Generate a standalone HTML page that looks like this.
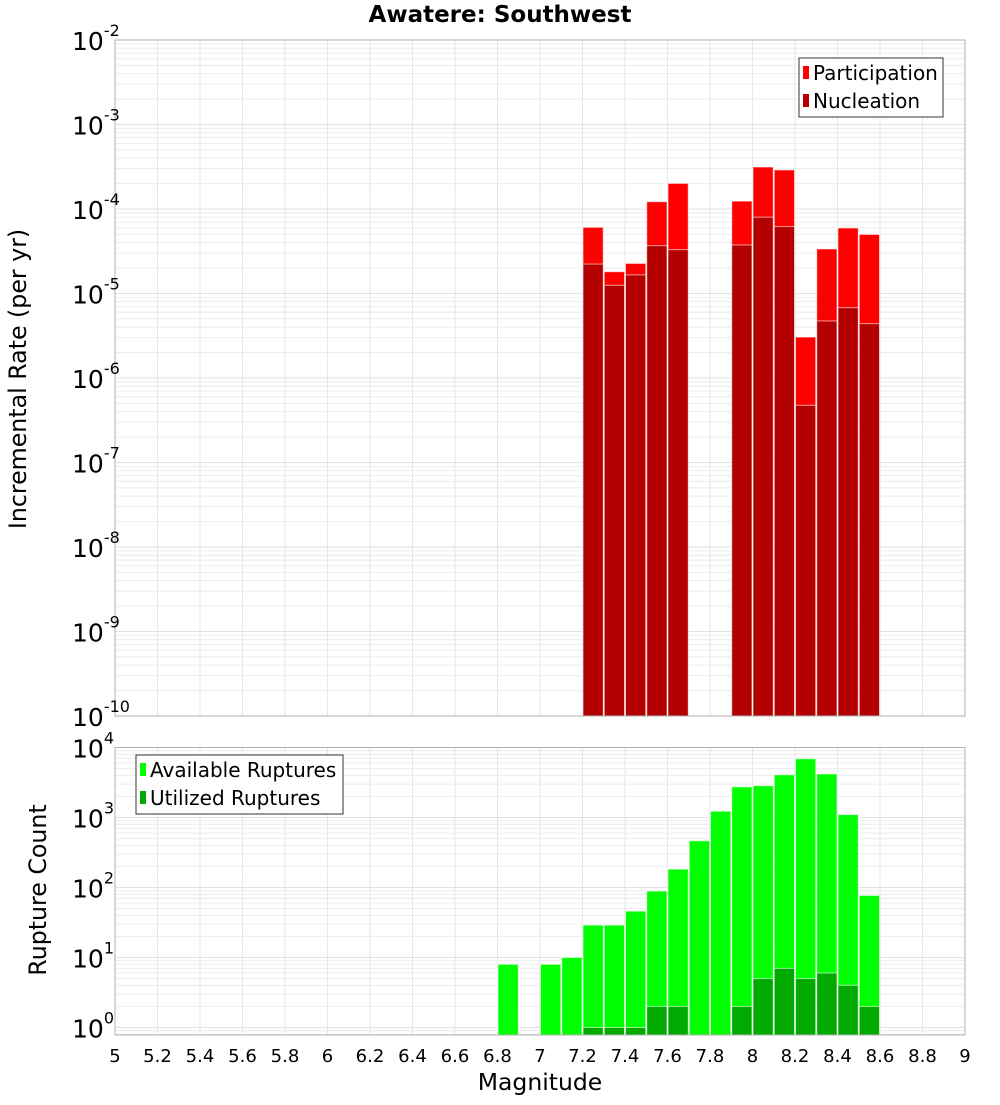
<!DOCTYPE html>
<html><head><meta charset="utf-8"><style>
body{margin:0;background:#fff}
svg text{font-family:"DejaVu Sans","Liberation Sans",sans-serif}
</style></head><body>
<svg id="c" width="1000" height="1100" xmlns="http://www.w3.org/2000/svg"></svg>
<script>
const binStarts=[6.8,6.9,7.0,7.1,7.2,7.3,7.4,7.5,7.6,7.7,7.8,7.9,8.0,8.1,8.2,8.3,8.4,8.5];
const participation=[0,0,0,0,6.07e-5,1.81e-5,2.27e-5,1.22e-4,2.01e-4,0,0,1.24e-4,3.14e-4,2.9e-4,3.05e-6,3.37e-5,5.96e-5,5.0e-5];
const nucleation=[0,0,0,0,2.23e-5,1.25e-5,1.66e-5,3.68e-5,3.3e-5,0,0,3.75e-5,8.0e-5,6.2e-5,4.75e-7,4.73e-6,6.8e-6,4.4e-6];
const available=[8,0,8,10,29,29,46,89,183,465,1230,2740,2850,4070,6900,4190,1100,77];
const utilized=[0,0,0,0,1,1,1,2,2,0,0,2,5,7,5,6,4,2];
const xTicks=["5","5.2","5.4","5.6","5.8","6","6.2","6.4","6.6","6.8","7","7.2","7.4","7.6","7.8","8","8.2","8.4","8.6","8.8","9"];
const topExps=[-2,-3,-4,-5,-6,-7,-8,-9,-10];
const botExps=[4,3,2,1,0];

const NS="http://www.w3.org/2000/svg";
const svg=document.getElementById('c');
function el(t,a,p){const e=document.createElementNS(NS,t);for(const k in a)e.setAttribute(k,a[k]);(p||svg).appendChild(e);return e;}
const X0=115,X1=965;
const x=v=>X0+(v-5)/4*(X1-X0);
const T0=40,T1=716;
const yTop=v=>T0+(-2-Math.log10(v))*(T1-T0)/8;
const B0=747.5,B1=1035,DEC=70;
const yBot=v=>B0+(4-Math.log10(v))*DEC;

function grid(top,bot,loExp,hiExp,yf,name){
  const g=el('g',{});
  
  
  for(let e=loExp;e<=hiExp;e++){for(let m=1;m<10;m++){const v=m*Math.pow(10,e);const y=yf(v);if(y<top-0.5||y>bot+0.5)continue;
    el('line',{x1:X0,x2:X1,y1:y,y2:y,stroke:m==1?'#e2e2e2':'#ececec','stroke-width':1},g);}}
  for(let i=0;i<=20;i++){const xx=x(5+i*0.2);el('line',{x1:xx,x2:xx,y1:top,y2:bot,stroke:'#e6e6e6','stroke-width':1},g);}
}
grid(T0,T1,-10,-2,yTop,'top-grid');
grid(B0,B1,-1,4,yBot,'bottom-grid');

const bw=(X1-X0)/40;
function bars(vals,yf,base,color,name){
  vals.forEach((v,i)=>{if(v<=0)return;const y=Math.max(yf(v),0);
    const r=el('rect',{x:x(binStarts[i])+0.5,y:y,width:bw-1,height:base-y,fill:color,stroke:'#ffffff','stroke-opacity':0.6,'stroke-width':1});
    
    
  });
}
bars(participation,yTop,T1,'#ff0000','participation');
bars(nucleation,yTop,T1,'#b30000','nucleation');
bars(available,yBot,B1,'#00ff00','available');
bars(utilized,yBot,B1,'#00aa00','utilized');

el('rect',{x:X0,y:T0,width:X1-X0,height:T1-T0,fill:'none',stroke:'#b0b0b0'});
el('rect',{x:X0,y:B0,width:X1-X0,height:B1-B0,fill:'none',stroke:'#b0b0b0'});

function ylab(e,y,name){const t=el('text',{x:72,y:y+10,'font-size':25,fill:'#000'});
  
  t.appendChild(document.createTextNode('10'));
  const s=el('tspan',{dy:-14,'font-size':16},t);s.textContent=String(e);}
topExps.forEach(e=>ylab(e,yTop(Math.pow(10,e)),'y-tick-top'));
botExps.forEach(e=>ylab(e,yBot(Math.pow(10,e)),'y-tick-bottom'));

xTicks.forEach(s=>{const t=el('text',{x:x(parseFloat(s)),y:1062,'font-size':18,'text-anchor':'middle',fill:'#000'});
  t.textContent=s;});
</script>
<svg width="1000" height="1100" style="position:absolute;left:0;top:0" xmlns="http://www.w3.org/2000/svg">
<text x="500" y="22" font-size="23" font-weight="bold" text-anchor="middle">Awatere: Southwest</text>
<text transform="translate(26,379) rotate(-90)" font-size="23.7" text-anchor="middle">Incremental Rate (per yr)</text>
<text transform="translate(46,890) rotate(-90)" font-size="23.7" text-anchor="middle">Rupture Count</text>
<text x="540" y="1090" font-size="23.5" text-anchor="middle">Magnitude</text>
<g font-size="20">
<rect x="799" y="58" width="144" height="59" fill="#fff" stroke="#333"/>
<rect x="803" y="66" width="6" height="13" fill="#ff0000"/><text x="813" y="80">Participation</text>
<rect x="803" y="94" width="6" height="13" fill="#b30000"/><text x="813" y="108">Nucleation</text>
</g>
<g font-size="20">
<rect x="136" y="755" width="207" height="59" fill="#fff" stroke="#333"/>
<rect x="140" y="763" width="6" height="13" fill="#00ff00"/><text x="150" y="777">Available Ruptures</text>
<rect x="140" y="791" width="6" height="13" fill="#00aa00"/><text x="150" y="805">Utilized Ruptures</text>
</g>
</svg>
</body></html>
